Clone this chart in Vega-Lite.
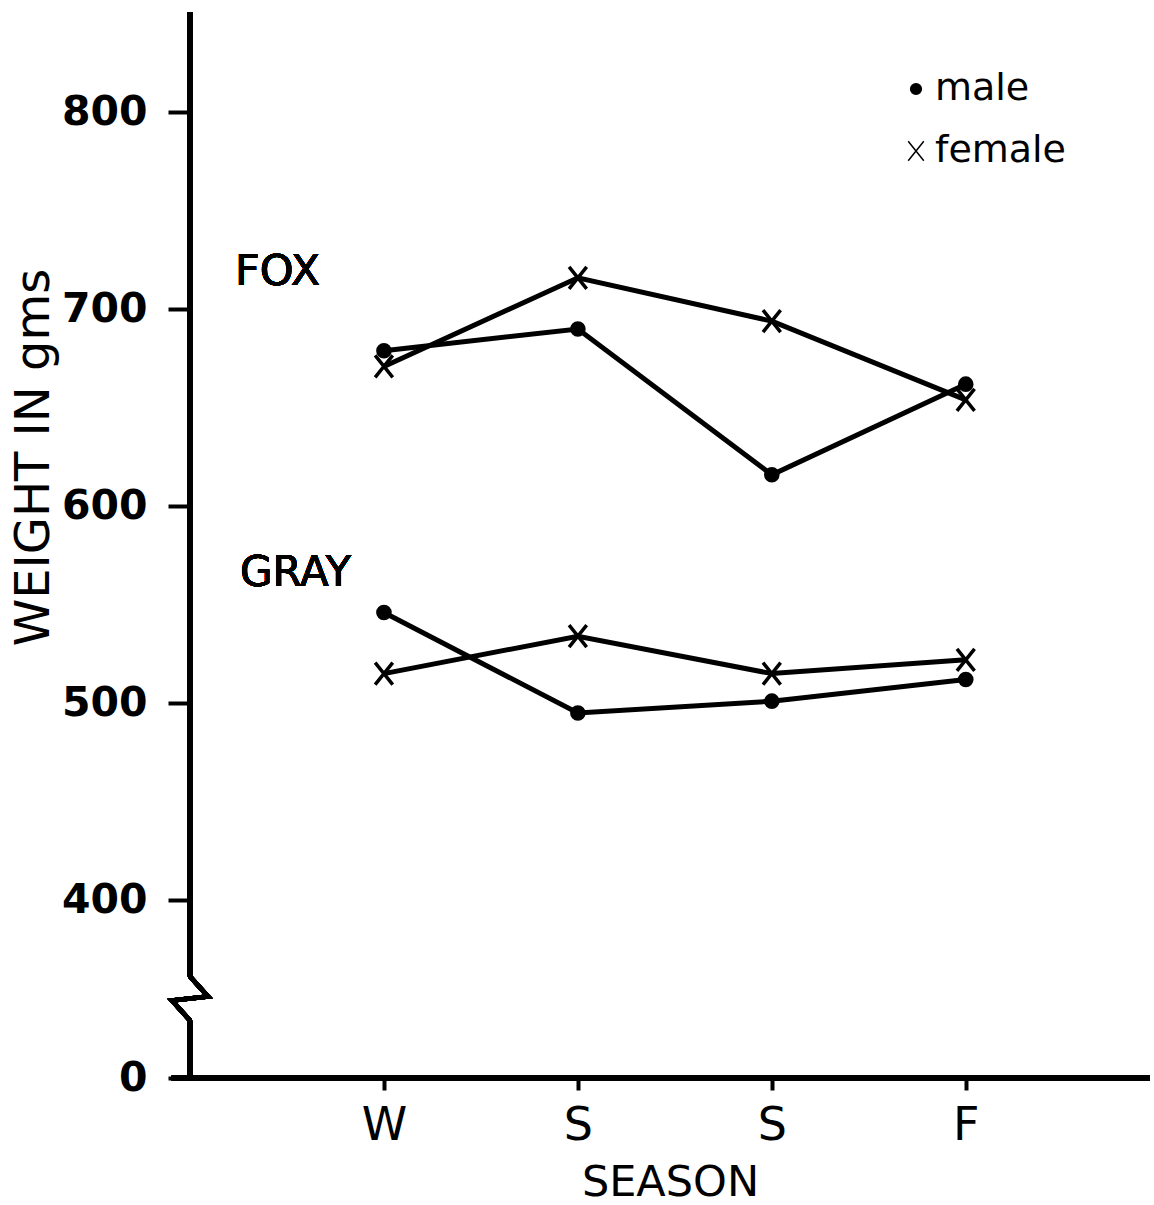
{
  "$schema": "https://vega.github.io/schema/vega-lite/v6.json",
  "width": 960,
  "height": 1066,
  "autosize": {"type": "none"},
  "padding": {"left": 190, "top": 12, "right": 4, "bottom": 127},
  "background": "white",
  "config": {"view": {"stroke": null}, "font": "DejaVu Sans"},
  "data": {
    "values": [
      {"species": "FOX", "sex": "male", "season_no": 1, "season": "W", "weight": 679},
      {"species": "FOX", "sex": "male", "season_no": 2, "season": "S", "weight": 690},
      {"species": "FOX", "sex": "male", "season_no": 3, "season": "S", "weight": 616},
      {"species": "FOX", "sex": "male", "season_no": 4, "season": "F", "weight": 662},
      {"species": "FOX", "sex": "female", "season_no": 1, "season": "W", "weight": 671},
      {"species": "FOX", "sex": "female", "season_no": 2, "season": "S", "weight": 716},
      {"species": "FOX", "sex": "female", "season_no": 3, "season": "S", "weight": 694},
      {"species": "FOX", "sex": "female", "season_no": 4, "season": "F", "weight": 654},
      {"species": "GRAY", "sex": "male", "season_no": 1, "season": "W", "weight": 546},
      {"species": "GRAY", "sex": "male", "season_no": 2, "season": "S", "weight": 495},
      {"species": "GRAY", "sex": "male", "season_no": 3, "season": "S", "weight": 501},
      {"species": "GRAY", "sex": "male", "season_no": 4, "season": "F", "weight": 512},
      {"species": "GRAY", "sex": "female", "season_no": 1, "season": "W", "weight": 515},
      {"species": "GRAY", "sex": "female", "season_no": 2, "season": "S", "weight": 534},
      {"species": "GRAY", "sex": "female", "season_no": 3, "season": "S", "weight": 515},
      {"species": "GRAY", "sex": "female", "season_no": 4, "season": "F", "weight": 522}
    ]
  },
  "layer": [
    {
      "mark": {"type": "line", "color": "black", "strokeWidth": 5},
      "encoding": {
        "x": {
          "field": "season_no",
          "type": "quantitative",
          "scale": {"domain": [0, 4.95], "nice": false, "zero": false},
          "axis": {
            "values": [1, 2, 3, 4],
            "labelExpr": "['', 'W', 'S', 'S', 'F'][datum.value]",
            "domain": false,
            "grid": false,
            "ticks": true,
            "tickSize": 12,
            "tickWidth": 4,
            "tickColor": "black",
            "labelFont": "DejaVu Sans",
            "labelFontSize": 46,
            "labelColor": "black",
            "labelPadding": 13,
            "labelFlush": false,
            "labelOverlap": false,
            "title": "SEASON",
            "titleFont": "DejaVu Sans",
            "titleFontSize": 43,
            "titleFontWeight": "normal",
            "titleColor": "black",
            "titlePadding": 13
          }
        },
        "y": {
          "field": "weight",
          "type": "quantitative",
          "scale": {"domain": [0, 350, 851], "range": [1066, 986.5, 0], "nice": false, "zero": false},
          "axis": {
            "values": [0, 400, 500, 600, 700, 800],
            "domain": false,
            "grid": false,
            "ticks": true,
            "tickSize": 22,
            "tickWidth": 4,
            "tickColor": "black",
            "labelFont": "DejaVu Sans",
            "labelFontWeight": "bold",
            "labelFontSize": 41,
            "labelColor": "black",
            "labelPadding": 21,
            "labelFlush": false,
            "labelOverlap": false,
            "title": "WEIGHT IN gms",
            "titleFont": "DejaVu Sans",
            "titleFontSize": 48,
            "titleFontWeight": "normal",
            "titleColor": "black",
            "titleAngle": -90,
            "titleAlign": "center",
            "titleBaseline": "middle",
            "titleX": -156,
            "titleY": 445
          }
        },
        "detail": [{"field": "species"}, {"field": "sex"}]
      }
    },
    {
      "mark": {"type": "point", "filled": true, "color": "black", "stroke": "black", "strokeWidth": 3.5, "size": 484, "opacity": 1},
      "encoding": {
        "x": {"field": "season_no", "type": "quantitative"},
        "y": {"field": "weight", "type": "quantitative"},
        "shape": {
          "field": "sex",
          "type": "nominal",
          "scale": {
            "domain": ["male", "female"],
            "range": ["M0.55,0A0.55,0.55,0,1,1,-0.55,0A0.55,0.55,0,1,1,0.55,0Z", "M-0.8,-1L0.8,1M0.8,-1L-0.8,1"]
          },
          "legend": {
            "title": null,
            "orient": "none",
            "legendX": 707,
            "legendY": 58,
            "labelFont": "DejaVu Sans",
            "labelFontSize": 38,
            "labelColor": "black",
            "labelOffset": 0,
            "symbolSize": 380,
            "rowPadding": 24,
            "encode": {
              "symbols": {
                "update": {
                  "stroke": {"value": "black"},
                  "strokeWidth": {"value": 3},
                  "fill": {"value": "black"},
                  "opacity": {"value": 1}
                }
              }
            }
          }
        }
      }
    },
    {
      "mark": {"type": "rule", "color": "black", "strokeWidth": 4.5},
      "encoding": {
        "x": {"datum": -0.095, "type": "quantitative"},
        "x2": {"datum": 4.95},
        "y": {"datum": 0, "type": "quantitative"}
      }
    },
    {
      "mark": {"type": "rule", "color": "black", "strokeWidth": 4.5},
      "encoding": {
        "x": {"datum": 0, "type": "quantitative"},
        "y": {"datum": 0, "type": "quantitative"},
        "y2": {"datum": 253}
      }
    },
    {
      "mark": {"type": "rule", "color": "black", "strokeWidth": 4.5},
      "encoding": {
        "x": {"datum": 0, "type": "quantitative"},
        "y": {"datum": 361, "type": "quantitative"},
        "y2": {"datum": 851}
      }
    },
    {
      "mark": {"type": "point", "shape": "M0,-1L0.82,-0.09L-0.82,0.09L0,1", "size": 1936, "filled": false, "stroke": "black", "strokeWidth": 4.5, "opacity": 1},
      "encoding": {
        "x": {"datum": 0, "type": "quantitative"},
        "y": {"datum": 350, "type": "quantitative"}
      }
    },
    {
      "mark": {"type": "text", "text": "FOX", "align": "left", "baseline": "middle", "font": "DejaVu Sans", "fontSize": 43, "color": "black"},
      "encoding": {
        "x": {"datum": 0.232, "type": "quantitative"},
        "y": {"datum": 718.8, "type": "quantitative"}
      }
    },
    {
      "mark": {"type": "text", "text": "GRAY", "align": "left", "baseline": "middle", "font": "DejaVu Sans", "fontSize": 42, "color": "black"},
      "encoding": {
        "x": {"datum": 0.258, "type": "quantitative"},
        "y": {"datum": 566, "type": "quantitative"}
      }
    }
  ]
}
